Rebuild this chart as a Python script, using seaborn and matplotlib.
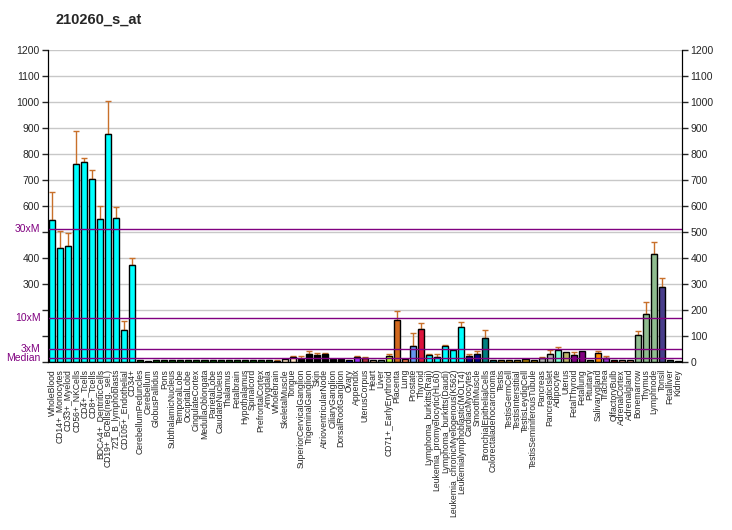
import numpy as np
import pandas as pd
import matplotlib
matplotlib.use('Agg')
import matplotlib.pyplot as plt
import seaborn as sns

sns.set_style('white')
plt.rcParams['font.family'] = ['Liberation Sans', 'DejaVu Sans']

# tissues, values and upper error
tissues = [
    'WholeBlood', 'CD14+_Monocytes', 'CD33+_Myeloid', 'CD56+_NKCells', 'CD4+_Tcells',
    'CD8+_Tcells', 'BDCA4+_DentriticCells', 'CD19+_BCells(neg._sel.)', '721_B_lymphoblasts',
    'CD105+_Endothelial', 'CD34+', 'CerebellumPeduncles', 'Cerebellum', 'GlobusPallidus',
    'Pons', 'SubthalamicNucleus', 'TemporalLobe', 'OccipitalLobe', 'CingulateCortex',
    'MedullaOblongata', 'ParietalLobe', 'CaudateNucleus', 'Thalamus', 'Fetalbrain',
    'Hypothalamus', 'Spinalcord', 'PrefrontalCortex', 'Amygdala', 'Wholebrain',
    'SkeletalMuscle', 'Tongue', 'SuperiorCervicalGanglion', 'TrigeminalGanglion', 'Skin',
    'AtrioventricularNode', 'CiliaryGanglion', 'DorsalRootGanglion', 'Ovary', 'Appendix',
    'UterusCorpus', 'Heart', 'Liver', 'CD71+_EarlyErythroid', 'Placenta', 'Lung',
    'Prostate', 'Thyroid', 'Lymphoma_burkitts(Raji)', 'Leukemia_promyelocytic(HL60)',
    'Lymphoma_burkitts(Daudi)', 'Leukemia_chronicMyelogenous(K562)',
    'Leukemialymphoblastic(MOLT4)', 'CardiacMyocytes', 'SmoothMuscle',
    'BronchialEpithelialCells', 'Colorectaladenocarcinoma', 'Testis', 'TestisGermCell',
    'TestisInterstitial', 'TestisLeydigCell', 'TestisSeminiferousTubule', 'Pancreas',
    'PancreaticIslet', 'Adipocyte', 'Uterus', 'FetalThyroid', 'Fetallung', 'Pituitary',
    'Salivarygland', 'Trachea', 'OlfactoryBulb', 'AdrenalCortex', 'Adrenalgland',
    'Bonemarrow', 'Thymus', 'Lymphnode', 'Tonsil', 'Fetalliver', 'Kidney']

values = [548, 440, 445, 763, 771, 705, 551, 878, 555, 122, 375,
          9, 5, 9, 9, 9, 9, 9, 9, 9, 9, 9, 9, 9, 9, 9, 9, 9, 5,
          13, 19, 13, 29, 26, 29, 13, 13, 6, 21, 17, 8, 8,
          25, 163, 13, 63, 128, 28, 21, 63, 46, 136, 25, 32, 94, 9,
          9, 9, 9, 13, 9, 17, 32, 48, 40, 28, 44, 9, 36, 17, 9, 9, 9,
          105, 186, 417, 290, 9, 5]

errors = [107, 65, 53, 127, 12, 35, 50, 127, 43, 37, 26,
          0, 0, 0, 0, 0, 0, 0, 0, 0, 0, 0, 0, 0, 0, 0, 0, 0, 3,
          0, 4, 9, 12, 10, 7, 0, 0, 0, 4, 2, 0, 0,
          7, 35, 0, 50, 23, 4, 11, 4, 0, 19, 7, 12, 31, 0,
          0, 0, 0, 0, 0, 2, 14, 11, 0, 12, 0, 0, 8, 5, 0, 0, 0,
          16, 46, 46, 35, 0, 0]

colors = (['#00FFFF'] * 11 + ['#006400'] * 18 + ['#FFE4C4'] * 2 + ['#000000'] * 6 +
          ['#0000CD', '#9B30FF', '#B03040', '#DEB887', '#6B9B9B', '#ADFF2F', '#D2691E',
           '#FF7F50', '#6495ED', '#DC143C'] +
          ['#00FFFF'] * 5 + ['#000080'] * 2 + ['#008080'] * 2 + ['#B8860B'] * 5 +
          ['#B0B0B0'] * 2 + ['#7FFFD4', '#BDB76B', '#800080', '#800080', '#556B2F',
                             '#FF8C00', '#9932CC', '#8B0000', '#E9967A', '#E9967A'] +
          ['#8FBC8F'] * 3 + ['#483D8B', '#2F4F4F', '#2F4F4F'])

median = 17
marks = {'Median': median, '3xM': 3 * median, '10xM': 10 * median, '30xM': 30 * median}

df = pd.DataFrame({'tissue': tissues, 'value': values, 'err': errors})

fig = plt.figure(figsize=(7.32, 5.30), dpi=100)
ax = fig.add_axes([48 / 732, 168 / 530, 634 / 732, 312 / 530])

for y in range(100, 1300, 100):
    ax.axhline(y, color='#C8C8C8', lw=1, zorder=0)

sns.barplot(data=df, x='tissue', y='value', hue='tissue', palette=colors,
            legend=False, width=0.75, edgecolor='black', linewidth=1,
            saturation=1, ax=ax, zorder=2)

x = np.arange(len(tissues))
e = np.array(errors)
has = e > 0
ax.errorbar(x[has], np.array(values)[has], yerr=[np.zeros(has.sum()), e[has]],
            fmt='none', ecolor='#C8702A', elinewidth=1, capsize=2, capthick=1, zorder=1)

for lab, v in marks.items():
    ax.axhline(v, color='#800080', lw=1, zorder=3)

ax.set_xlim(-0.5, len(tissues) - 0.5)
ax.set_ylim(0, 1200)
ax.set_xlabel('')
ax.set_ylabel('')
ax.set_xticks(x)
ax.set_xticklabels(tissues, rotation=90, fontsize=6.2)
ax.tick_params(axis='x', length=4, width=1, pad=1)

ticks = list(range(0, 1300, 100))
ax.set_yticks(ticks)
ax.set_yticklabels([str(t) if t in (300, 400) or t >= 600 else '' for t in ticks],
                   fontsize=7.5)
ax.tick_params(axis='y', length=4, width=1, pad=2, left=True)
for lab, v in marks.items():
    ax.text(-0.012, v, lab, transform=ax.get_yaxis_transform(), ha='right',
            va='center', fontsize=7.5, color='#800080')

ax2 = ax.twinx()
ax2.set_ylim(0, 1200)
ax2.set_yticks(ticks)
ax2.set_yticklabels([str(t) for t in ticks], fontsize=7.5)
ax2.tick_params(axis='y', length=4, width=1, pad=2)

for a in (ax, ax2):
    for s in a.spines.values():
        s.set_visible(False)
    for side in ('left', 'right', 'bottom'):
        a.spines[side].set_visible(True)
        a.spines[side].set_color('black')

fig.text(55 / 732, 1 - 20 / 530, '210260_s_at', fontsize=10.5, fontweight='bold',
         ha='left', va='center')

fig.savefig('out.png', dpi=100)
